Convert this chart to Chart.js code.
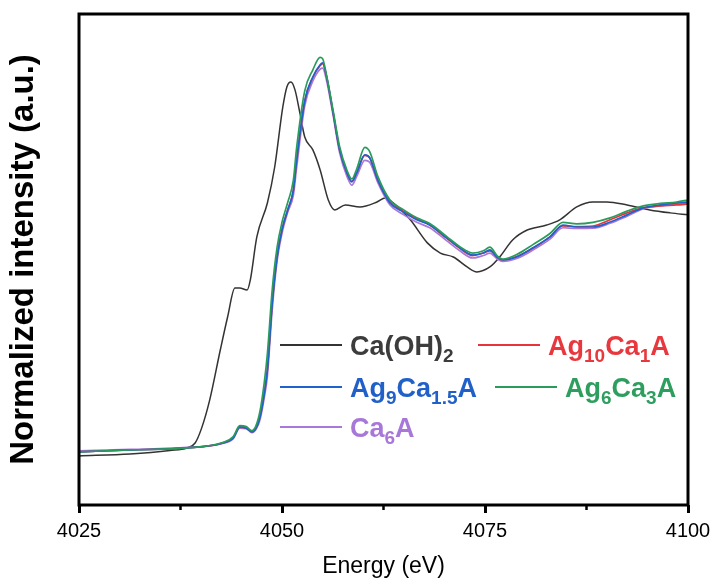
<!DOCTYPE html>
<html>
<head>
<meta charset="utf-8">
<script src="https://cdn.jsdelivr.net/npm/chart.js@4"></script>
<style>
  html, body { margin: 0; padding: 0; background: #fff; }
  #wrap { width: 713px; height: 581px; }
</style>
</head>
<body>
<div id="wrap"><canvas id="xanes" width="713" height="581"></canvas></div>
<script>
// Ca K-edge XANES, normalized
const blackEnergy = [4025, 4031.3, 4036.2, 4038.3, 4039.3, 4040.1, 4041.1, 4042.4, 4043.3, 4044.2, 4044.8, 4045.7, 4046.1, 4046.9, 4048.2, 4049.1, 4050.1, 4050.6, 4051.1, 4051.6, 4052.2, 4052.8, 4053.8, 4054.7, 4055.7, 4056.5, 4057.8, 4059.6, 4061.7, 4062.7, 4063.7, 4065.8, 4067.9, 4069.5, 4071.1, 4072.8, 4074.0, 4075.6, 4076.8, 4078.4, 4080.2, 4082.6, 4084.2, 4086.3, 4088.3, 4090.0, 4092.5, 4095.3, 4097.8, 4100];
const caOH2 = [-0.012, -0.004, 0.01, 0.02, 0.04, 0.10, 0.214, 0.415, 0.548, 0.665, 0.665, 0.657, 0.698, 0.871, 1.008, 1.153, 1.395, 1.476, 1.496, 1.464, 1.371, 1.274, 1.222, 1.141, 1.020, 0.980, 1.000, 0.992, 1.012, 1.028, 1.008, 0.940, 0.847, 0.806, 0.790, 0.750, 0.730, 0.750, 0.790, 0.859, 0.899, 0.919, 0.940, 0.992, 1.012, 1.012, 1.000, 0.980, 0.968, 0.960];

const sampleEnergy = [4025, 4031.3, 4038.3, 4042.7, 4044.0, 4044.8, 4045.6, 4046.3, 4046.8, 4047.3, 4047.8, 4048.2, 4048.8, 4049.4, 4050.0, 4050.7, 4051.4, 4051.8, 4052.8, 4053.8, 4054.7, 4055.0, 4055.5, 4056.3, 4057.1, 4058.0, 4058.6, 4059.2, 4060.2, 4060.8, 4061.8, 4063.3, 4064.9, 4066.6, 4068.2, 4070.3, 4071.9, 4073.5, 4074.8, 4075.6, 4076.5, 4077.2, 4078.9, 4080.9, 4083.0, 4084.6, 4086.3, 4088.3, 4090.4, 4092.5, 4094.5, 4096.6, 4098.6, 4100];
const ag10Ca1A = [0.004, 0.012, 0.02, 0.04, 0.062, 0.104, 0.10, 0.086, 0.10, 0.15, 0.24, 0.34, 0.61, 0.795, 0.90, 0.98, 1.06, 1.18, 1.42, 1.515, 1.562, 1.57, 1.515, 1.37, 1.222, 1.13, 1.095, 1.13, 1.20, 1.19, 1.10, 1.012, 0.976, 0.944, 0.919, 0.865, 0.825, 0.796, 0.806, 0.815, 0.788, 0.778, 0.792, 0.825, 0.871, 0.915, 0.913, 0.915, 0.94, 0.968, 0.988, 0.996, 1.0, 1.004];
const ag9Ca15A = [0.004, 0.012, 0.02, 0.04, 0.06, 0.105, 0.10, 0.085, 0.10, 0.145, 0.234, 0.335, 0.605, 0.79, 0.90, 0.98, 1.06, 1.18, 1.42, 1.516, 1.565, 1.573, 1.516, 1.371, 1.222, 1.129, 1.093, 1.129, 1.202, 1.19, 1.101, 1.008, 0.972, 0.94, 0.919, 0.867, 0.827, 0.798, 0.806, 0.819, 0.79, 0.778, 0.79, 0.827, 0.871, 0.919, 0.911, 0.911, 0.931, 0.96, 0.988, 1.0, 1.008, 1.012];
const ag6Ca3A = [0.004, 0.012, 0.02, 0.042, 0.066, 0.11, 0.106, 0.09, 0.11, 0.17, 0.28, 0.40, 0.66, 0.83, 0.93, 1.01, 1.10, 1.23, 1.46, 1.545, 1.595, 1.59, 1.52, 1.38, 1.235, 1.14, 1.105, 1.145, 1.232, 1.215, 1.115, 1.02, 0.982, 0.948, 0.925, 0.872, 0.832, 0.806, 0.815, 0.83, 0.795, 0.782, 0.80, 0.84, 0.885, 0.93, 0.924, 0.93, 0.948, 0.975, 0.996, 1.006, 1.012, 1.02];
const ca6A = [0.008, 0.014, 0.022, 0.038, 0.058, 0.10, 0.098, 0.082, 0.095, 0.135, 0.22, 0.31, 0.58, 0.775, 0.885, 0.97, 1.04, 1.15, 1.40, 1.50, 1.548, 1.552, 1.50, 1.36, 1.21, 1.115, 1.08, 1.115, 1.18, 1.172, 1.09, 1.0, 0.962, 0.93, 0.908, 0.855, 0.815, 0.786, 0.796, 0.806, 0.782, 0.772, 0.784, 0.818, 0.862, 0.908, 0.905, 0.906, 0.926, 0.955, 0.985, 0.996, 1.004, 1.008];

const xTicks = [4025, 4050, 4075, 4100];
const seriesNames = ['Ca(OH)_{2}', 'Ag_{10}Ca_{1}A', 'Ag_{9}Ca_{1.5}A', 'Ag_{6}Ca_{3}A', 'Ca_{6}A'];
const lineColors = ['#333333', '#e8333b', '#1f62cc', '#2b9b5c', '#a878db'];
const textColors = ['#3c3c3c', '#e8383d', '#2060c8', '#2e9e5e', '#a878d8'];

const FONT = 'Arial, "Liberation Sans", sans-serif';

const toPoints = (xs, ys) => xs.map((x, i) => ({ x: x, y: ys[i] }));

const seriesData = [
  toPoints(blackEnergy, caOH2),
  toPoints(sampleEnergy, ag10Ca1A),
  toPoints(sampleEnergy, ag9Ca15A),
  toPoints(sampleEnergy, ag6Ca3A),
  toPoints(sampleEnergy, ca6A),
];

// legend with subscripts, laid out like the original figure
const legendSlots = [
  { x: 280, y: 345 }, { x: 478, y: 345 },
  { x: 280, y: 387 }, { x: 495, y: 387 },
  { x: 280, y: 427 },
];

const drawRich = (ctx, text, x, y, color) => {
  const parts = text.split(/(_\{[^}]*\})/).filter(p => p.length);
  ctx.fillStyle = color;
  ctx.textBaseline = 'alphabetic';
  ctx.textAlign = 'left';
  parts.forEach(p => {
    if (p.startsWith('_{')) {
      const s = p.slice(2, -1);
      ctx.font = 'bold 19px ' + FONT;
      ctx.fillText(s, x, y + 7);
      x += ctx.measureText(s).width;
    } else {
      ctx.font = 'bold 27px ' + FONT;
      ctx.fillText(p, x, y);
      x += ctx.measureText(p).width;
    }
  });
};

const framePlugin = {
  id: 'frame',
  afterDatasetsDraw(chart) {
    const { ctx, chartArea: a, scales } = chart;
    ctx.save();
    ctx.strokeStyle = '#000';
    ctx.lineWidth = 3;
    ctx.strokeRect(a.left, a.top, a.right - a.left, a.bottom - a.top);
    // minor ticks halfway between labelled ticks
    ctx.lineWidth = 2.5;
    for (let i = 0; i < xTicks.length - 1; i++) {
      const px = scales.x.getPixelForValue((xTicks[i] + xTicks[i + 1]) / 2);
      ctx.beginPath();
      ctx.moveTo(px, a.bottom);
      ctx.lineTo(px, a.bottom + 5);
      ctx.stroke();
    }
    ctx.restore();
  },
  afterDraw(chart) {
    const { ctx } = chart;
    ctx.save();
    seriesNames.forEach((name, i) => {
      const s = legendSlots[i];
      ctx.strokeStyle = lineColors[i];
      ctx.lineWidth = 2;
      ctx.beginPath();
      ctx.moveTo(s.x, s.y);
      ctx.lineTo(s.x + 62, s.y);
      ctx.stroke();
      drawRich(ctx, name, s.x + 70, s.y + 10, textColors[i]);
    });
    ctx.restore();
  },
};

const drawOrder = [0, 4, 1, 2, 3];

new Chart(document.getElementById('xanes').getContext('2d'), {
  type: 'line',
  data: {
    datasets: seriesData.map((d, i) => ({
      label: seriesNames[i],
      data: d,
      borderColor: lineColors[i],
      borderWidth: i === 0 ? 1.5 : 1.7,
      pointRadius: 0,
      fill: false,
      cubicInterpolationMode: 'monotone',
      order: -drawOrder.indexOf(i),
    })),
  },
  options: {
    responsive: false,
    animation: false,
    layout: { padding: { left: 0, top: 14, right: 25, bottom: 0 } },
    plugins: { legend: { display: false }, tooltip: { enabled: false } },
    scales: {
      x: {
        type: 'linear',
        min: 4025,
        max: 4100,
        afterFit: s => { s.height = 76; s.paddingLeft = 0; s.paddingRight = 0; },
        afterBuildTicks: s => { s.ticks = xTicks.map(v => ({ value: v })); },
        border: { display: false },
        grid: { drawOnChartArea: false, drawTicks: true, tickLength: 8, tickWidth: 3, tickColor: '#000' },
        ticks: { color: '#000', font: { family: FONT, size: 20 }, padding: 6, maxRotation: 0, callback: v => String(v) },
        title: { display: true, text: 'Energy (eV)', color: '#000', font: { family: FONT, size: 23 }, padding: { top: 0, bottom: 1 } },
      },
      y: {
        min: -0.21,
        max: 1.77,
        afterFit: s => { s.width = 79; s.paddingTop = 0; s.paddingBottom = 0; },
        border: { display: false },
        grid: { display: false },
        ticks: { display: false },
        title: { display: true, text: 'Normalized intensity (a.u.)', color: '#000', font: { family: FONT, size: 33, weight: 'bold' }, padding: { top: 4, bottom: 0 } },
      },
    },
  },
  plugins: [framePlugin],
});
</script>
</body>
</html>
